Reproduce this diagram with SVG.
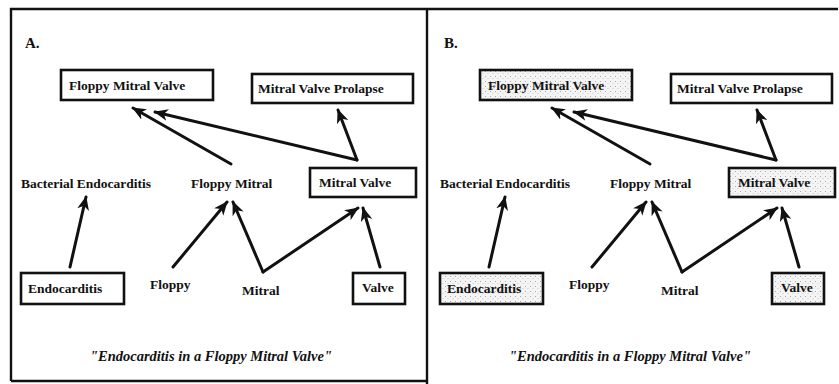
<svg xmlns="http://www.w3.org/2000/svg" width="839" height="384" viewBox="0 0 839 384">
<style>
.t{font-family:"Liberation Serif","Times New Roman",serif;font-weight:bold;font-size:13.5px;fill:#111}
.q{font-family:"Liberation Serif","Times New Roman",serif;font-weight:bold;font-style:italic;font-size:14.5px;fill:#111}
.lbl{font-family:"Liberation Serif","Times New Roman",serif;font-weight:bold;font-size:15px;fill:#111}
.box{fill:#fff;stroke:#111;stroke-width:2.6}
.boxg{fill:url(#stip);stroke:#111;stroke-width:2.6}
.frame{fill:none;stroke:#111;stroke-width:2.4}
.arr{fill:none;stroke:#111;stroke-width:3;stroke-linecap:round;stroke-linejoin:round}
</style>
<defs>
<pattern id="stip" width="5" height="5" patternUnits="userSpaceOnUse">
<rect width="5" height="5" fill="#f4f4f4"/>
<rect x="1" y="1" width="1" height="1" fill="#aaa"/>
<rect x="3.5" y="3" width="1" height="1" fill="#c8c8c8"/>
</pattern>
<marker id="ah" viewBox="0 0 14 12" markerWidth="14" markerHeight="12" refX="13" refY="6" orient="auto" markerUnits="userSpaceOnUse">
<path d="M0,0 L14,6 L0,12 L4,6 z" fill="#111"/>
</marker>
</defs>
<g id="frame">
<path class="frame" d="M11,381 L11,9 L838,9"/>
<path class="frame" d="M11,381 L427,381"/>
<path class="frame" d="M427,9 L427,384"/>
</g>
<g id="panelA">
<text class="lbl" x="25" y="48">A.</text>
<g id="a-fmv"><rect class="box" x="61" y="70" width="152" height="30"/><text class="t" x="69" y="90">Floppy Mitral Valve</text></g>
<g id="a-mvp"><rect class="box" x="252" y="74" width="161" height="29"/><text class="t" x="258" y="93">Mitral Valve Prolapse</text></g>
<g id="a-be"><text class="t" x="21" y="188">Bacterial Endocarditis</text></g>
<g id="a-fm"><text class="t" x="191" y="188">Floppy Mitral</text></g>
<g id="a-mv"><rect class="box" x="310" y="168" width="106" height="29"/><text class="t" x="319" y="187">Mitral Valve</text></g>
<g id="a-endo"><rect class="box" x="21" y="273" width="103" height="31"/><text class="t" x="28" y="293">Endocarditis</text></g>
<g id="a-floppy"><text class="t" x="150" y="289">Floppy</text></g>
<g id="a-mitral"><text class="t" x="242" y="295">Mitral</text></g>
<g id="a-valve"><rect class="box" x="353" y="273" width="52" height="31"/><text class="t" x="362" y="292">Valve</text></g>
<text class="q" x="211" y="361" text-anchor="middle">"Endocarditis in a Floppy Mitral Valve"</text>
<g id="a-connectors">
<line class="arr" x1="70" y1="267" x2="86" y2="197" marker-end="url(#ah)"/>
<line class="arr" x1="173" y1="267" x2="227" y2="202" marker-end="url(#ah)"/>
<line class="arr" x1="263" y1="272" x2="233" y2="202" marker-end="url(#ah)"/>
<line class="arr" x1="263" y1="272" x2="358" y2="208" marker-end="url(#ah)"/>
<line class="arr" x1="380" y1="267" x2="363" y2="208" marker-end="url(#ah)"/>
<line class="arr" x1="357" y1="160" x2="155" y2="112" marker-end="url(#ah)"/>
<line class="arr" x1="357" y1="160" x2="338" y2="110" marker-end="url(#ah)"/>
<line class="arr" x1="231" y1="164" x2="133" y2="108" marker-end="url(#ah)"/>
</g>
</g>
<g id="panelB" transform="translate(419,0)">
<text class="lbl" x="25" y="48">B.</text>
<g id="b-fmv"><rect class="boxg" x="61" y="70" width="152" height="30"/><text class="t" x="69" y="90">Floppy Mitral Valve</text></g>
<g id="b-mvp"><rect class="box" x="252" y="74" width="161" height="29"/><text class="t" x="258" y="93">Mitral Valve Prolapse</text></g>
<g id="b-be"><text class="t" x="21" y="188">Bacterial Endocarditis</text></g>
<g id="b-fm"><text class="t" x="191" y="188">Floppy Mitral</text></g>
<g id="b-mv"><rect class="boxg" x="310" y="168" width="106" height="29"/><text class="t" x="319" y="187">Mitral Valve</text></g>
<g id="b-endo"><rect class="boxg" x="21" y="273" width="103" height="31"/><text class="t" x="28" y="293">Endocarditis</text></g>
<g id="b-floppy"><text class="t" x="150" y="289">Floppy</text></g>
<g id="b-mitral"><text class="t" x="242" y="295">Mitral</text></g>
<g id="b-valve"><rect class="boxg" x="353" y="273" width="52" height="31"/><text class="t" x="362" y="292">Valve</text></g>
<text class="q" x="211" y="361" text-anchor="middle">"Endocarditis in a Floppy Mitral Valve"</text>
<g id="b-connectors">
<line class="arr" x1="70" y1="267" x2="86" y2="197" marker-end="url(#ah)"/>
<line class="arr" x1="173" y1="267" x2="227" y2="202" marker-end="url(#ah)"/>
<line class="arr" x1="263" y1="272" x2="233" y2="202" marker-end="url(#ah)"/>
<line class="arr" x1="263" y1="272" x2="358" y2="208" marker-end="url(#ah)"/>
<line class="arr" x1="380" y1="267" x2="363" y2="208" marker-end="url(#ah)"/>
<line class="arr" x1="357" y1="160" x2="155" y2="112" marker-end="url(#ah)"/>
<line class="arr" x1="357" y1="160" x2="338" y2="110" marker-end="url(#ah)"/>
<line class="arr" x1="231" y1="164" x2="133" y2="108" marker-end="url(#ah)"/>
</g>
</g>
</svg>
